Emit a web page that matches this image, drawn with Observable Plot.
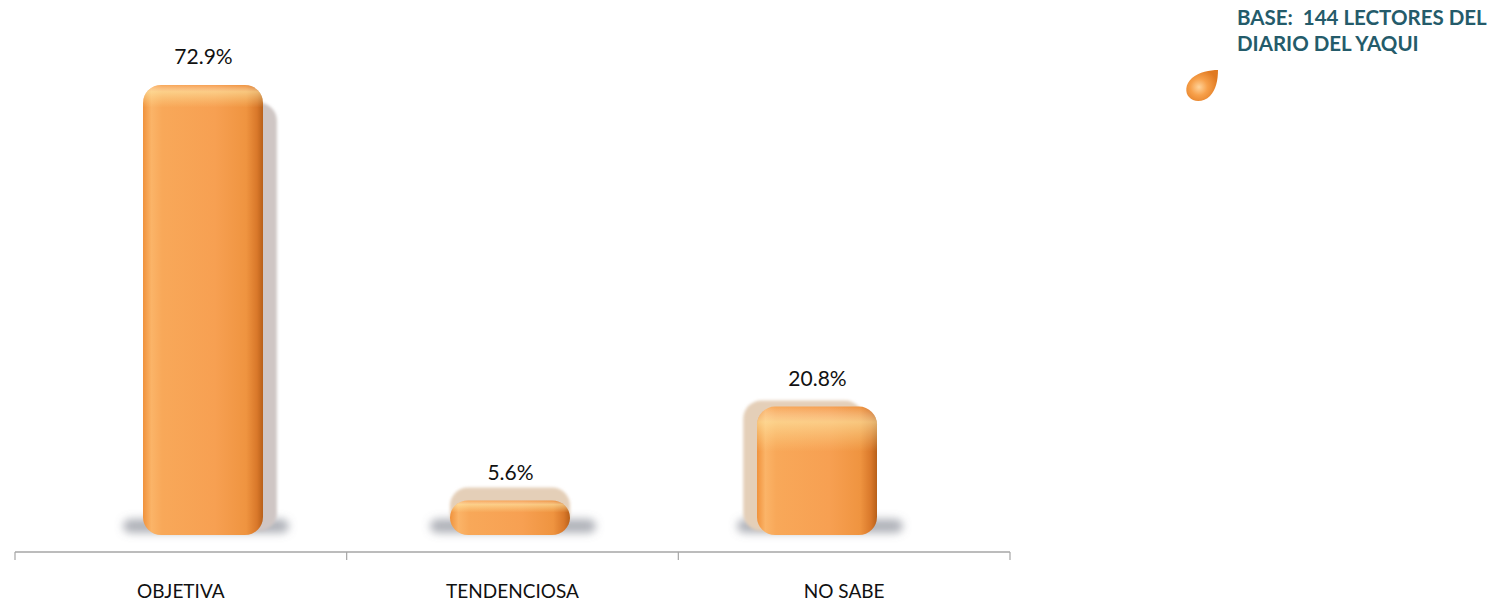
<!DOCTYPE html>
<html>
<head>
<meta charset="utf-8">
<script src="https://cdn.jsdelivr.net/npm/d3@7"></script>
<script src="https://cdn.jsdelivr.net/npm/@observablehq/plot@0.6"></script>
<style>
  html, body { margin: 0; padding: 0; background: #fff; }
  #wrap { position: relative; width: 1506px; height: 603px; overflow: hidden; font-family: Lato, "Open Sans", sans-serif; }
  #chart { position: absolute; left: 0; top: 0; }
  #legend { position: absolute; left: 1237px; top: 4px; color: #245b6a; font-weight: 700; font-size: 20.5px; line-height: 26px; white-space: nowrap; }
  #swatch { position: absolute; left: 1184px; top: 68px; }
</style>
</head>
<body>
<div id="wrap">
  <div id="chart"></div>
  <div id="legend">BASE:&nbsp; 144 LECTORES DEL<br>DIARIO DEL YAQUI</div>
  <svg id="swatch" width="36" height="36" viewBox="0 0 36 36">
    <defs>
      <radialGradient id="dropGrad" cx="0.4" cy="0.55" r="0.6">
        <stop offset="0" stop-color="#ffd39a"/>
        <stop offset="0.45" stop-color="#f7a04a"/>
        <stop offset="1" stop-color="#e07a22"/>
      </radialGradient>
    </defs>
    <path d="M34 2 C 26 2 15 4 8 10 C 1 16 1 25 5 29 C 10 35 20 34 26 28 C 32 22 34 12 34 2 Z" fill="url(#dropGrad)"/>
  </svg>
</div>
<script>
const categories = ["OBJETIVA", "TENDENCIOSA", "NO SABE"];
const values = [72.9, 5.6, 20.8];
const valueLabels = ["72.9%", "5.6%", "20.8%"];

const data = categories.map((c, i) => ({cat: c, value: values[i], label: valueLabels[i]}));

// base axis: line, ticks at category boundaries, and category labels at the centre of each slot
function baseAxis(index, scales, channels, dims) {
  const g = d3.create("svg:g").attr("aria-label", "base-axis");
  const left = dims.marginLeft, right = dims.width - dims.marginRight;
  const y0 = dims.height - dims.marginBottom;
  const step = (right - left) / categories.length;
  g.append("line").attr("x1", left).attr("x2", right).attr("y1", y0).attr("y2", y0)
    .attr("stroke", "#a6a6a6").attr("stroke-width", 1.5);
  for (let i = 0; i <= categories.length; i++) {
    const x = left + i * step;
    g.append("line").attr("x1", x).attr("x2", x).attr("y1", y0).attr("y2", y0 + 8)
      .attr("stroke", "#a6a6a6").attr("stroke-width", 1.2);
  }
  categories.forEach((c, i) => {
    g.append("text").attr("x", left + (i + 0.5) * step).attr("y", y0 + 46)
      .attr("text-anchor", "middle").attr("font-size", 19).attr("fill", "#111").text(c);
  });
  return g.node();
}

const chart = Plot.plot({
  width: 1506,
  height: 603,
  marginLeft: 15,
  marginRight: 496,
  marginTop: 0,
  marginBottom: 51,
  style: {fontFamily: "Lato, 'Open Sans', sans-serif", background: "transparent"},
  x: {domain: categories, range: [49.5, 970.5], paddingInner: 0.609, paddingOuter: 0.3045, axis: null},
  y: {domain: [0, 72.9], range: [535, 85], axis: null},
  marks: [
    // ground shadow
    Plot.barY(data, {x: "cat", y1: 0, y2: 0, insetTop: -16, insetBottom: 2, insetLeft: -20, insetRight: -26, fill: "#6e7280", fillOpacity: 0.55, rx: 8}),
    // back face
    Plot.barY(data, {x: "cat", y: "value", fill: "#e4cfb8", rx: 18}),
    // main bar
    Plot.barY(data, {x: "cat", y: "value", fill: "#f39a48", rx: 18}),
    // top highlight
    Plot.barY(data, {x: "cat", y: "value", fill: "#f39a48", rx: 18}),
    Plot.text(data, {x: "cat", y: "value", text: "label", dy: -28, fontSize: 21, fill: "#111"}),
    baseAxis
  ]
});

const svg = d3.select(chart);
const defs = svg.insert("defs", ":first-child");
const hg = defs.append("linearGradient").attr("id", "barGrad").attr("x1", 0).attr("x2", 1).attr("y1", 0).attr("y2", 0);
[[0, "#f0923c"], [0.07, "#fbb468"], [0.16, "#f8a859"], [0.6, "#f7a052"], [0.86, "#ef9440"], [0.95, "#d9782a"], [1, "#b8601a"]]
  .forEach(([o, c]) => hg.append("stop").attr("offset", o).attr("stop-color", c));
const vg = defs.append("linearGradient").attr("id", "topGrad").attr("x1", 0).attr("x2", 0).attr("y1", 0).attr("y2", 1);
[[0, "#ffffff", 0.0], [0.015, "#fff0b0", 0.55], [0.05, "#ffe8a0", 0.0], [1, "#ffffff", 0]]
  .forEach(([o, c, a]) => vg.append("stop").attr("offset", o).attr("stop-color", c).attr("stop-opacity", a));
const vgShort = defs.append("linearGradient").attr("id", "topGradShort").attr("x1", 0).attr("x2", 0).attr("y1", 0).attr("y2", 1);
[[0, "#ffffff", 0.0], [0.12, "#fff0b0", 0.55], [0.35, "#ffe8a0", 0.0], [1, "#ffffff", 0]]
  .forEach(([o, c, a]) => vgShort.append("stop").attr("offset", o).attr("stop-color", c).attr("stop-opacity", a));
const blur = defs.append("filter").attr("id", "blur").attr("x", "-30%").attr("y", "-100%").attr("width", "160%").attr("height", "300%");
blur.append("feGaussianBlur").attr("stdDeviation", 4);
const blur2 = defs.append("filter").attr("id", "blur2").attr("x", "-20%").attr("y", "-20%").attr("width", "140%").attr("height", "140%");
blur2.append("feGaussianBlur").attr("stdDeviation", 1.5);

const barGroups = svg.selectAll('g[aria-label="bar"]').nodes();
// ground shadow blur
d3.select(barGroups[0]).attr("filter", "url(#blur)");
// back face perspective offset
const vanishX = 511, vanishY = 324;
d3.select(barGroups[1]).attr("filter", "url(#blur2)").selectAll("rect").each(function() {
  const r = d3.select(this);
  const x = +r.attr("x"), w = +r.attr("width"), y = +r.attr("y"), h = +r.attr("height");
  const cx = x + w / 2;
  const dx = (vanishX - cx) * 0.045;
  const dy = Math.max((vanishY - y) * 0.0737, -14);
  r.attr("x", x + dx).attr("y", y + dy).attr("height", Math.max(h - Math.max(dy, 0) - 4, 10) + Math.max(-dy, 0));
  if (dy > 0) r.attr("fill", "#cfc6c4");
});
d3.select(barGroups[2]).selectAll("rect").attr("fill", "url(#barGrad)");
d3.select(barGroups[3]).selectAll("rect").each(function() {
  const r = d3.select(this);
  r.attr("fill", +r.attr("height") > 200 ? "url(#topGrad)" : "url(#topGradShort)");
});

document.getElementById("chart").appendChild(chart);
</script>
</body>
</html>
